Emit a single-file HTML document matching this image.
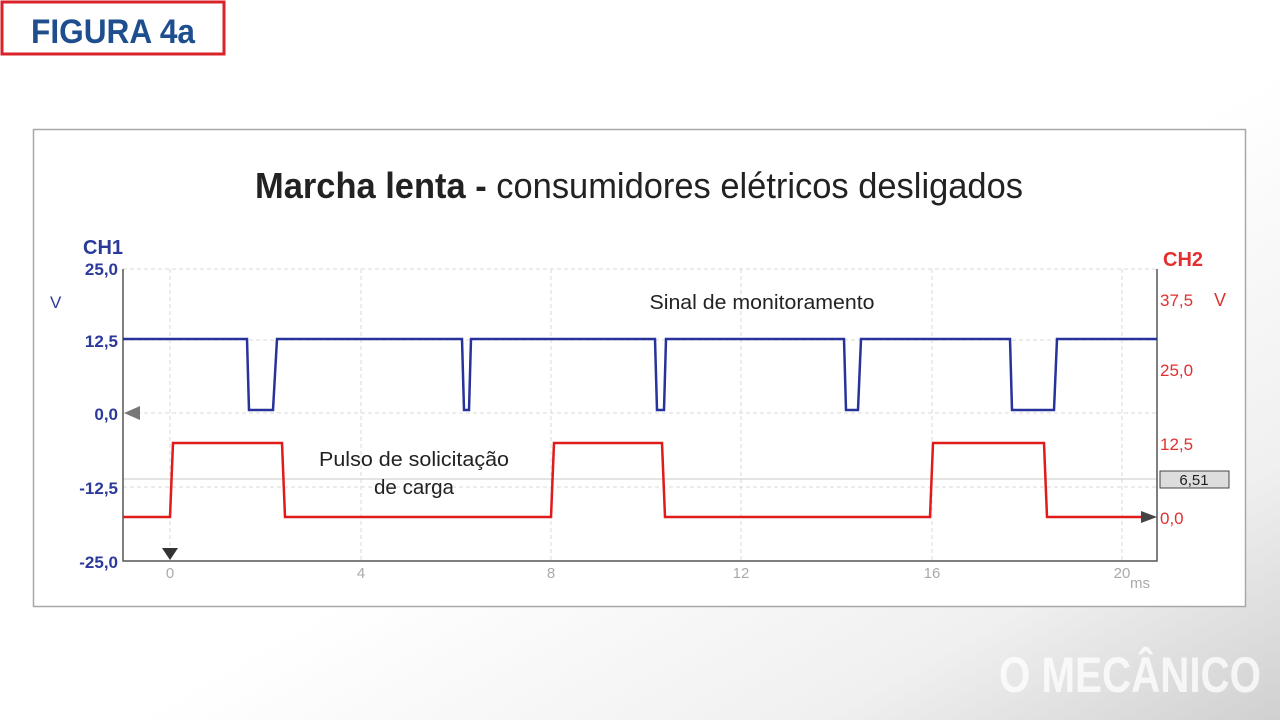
<!DOCTYPE html>
<html><head><meta charset="utf-8"><style>
html,body{margin:0;padding:0;width:1280px;height:720px;overflow:hidden;background:#fff;}
</style></head><body>
<svg width="1280" height="720" viewBox="0 0 1280 720" xmlns="http://www.w3.org/2000/svg" font-family="Liberation Sans, sans-serif">
<defs>
<linearGradient id="bg" x1="0.55" y1="0.55" x2="1" y2="1">
<stop offset="0" stop-color="#ffffff"/><stop offset="0.6" stop-color="#f0f0f0"/><stop offset="1" stop-color="#d0d0d0"/>
</linearGradient>
</defs>
<rect width="1280" height="720" fill="url(#bg)"/>
<rect x="2" y="2" width="222" height="52" fill="#fff" stroke="#d8232a" stroke-width="3"/>
<text x="113" y="43" text-anchor="middle" font-size="34" font-weight="bold" fill="#1f4e8f" textLength="164" lengthAdjust="spacingAndGlyphs">FIGURA 4a</text>
<text x="1130" y="692" text-anchor="middle" font-size="50" font-weight="bold" fill="#fff" fill-opacity="0.75" textLength="262" lengthAdjust="spacingAndGlyphs">O MECÂNICO</text>

<rect x="33.5" y="129.5" width="1212" height="477" fill="#fff" stroke="#a8a8a8" stroke-width="1.5"/>
<text x="639" y="198" text-anchor="middle" font-size="36" fill="#222" textLength="768" lengthAdjust="spacingAndGlyphs"><tspan font-weight="bold">Marcha lenta -</tspan> consumidores elétricos desligados</text>

<!-- grid -->
<g stroke="#d8d8d8" stroke-width="1" stroke-dasharray="4,3">
<line x1="170" y1="269" x2="170" y2="561"/><line x1="361" y1="269" x2="361" y2="561"/>
<line x1="551" y1="269" x2="551" y2="561"/><line x1="741" y1="269" x2="741" y2="561"/>
<line x1="932" y1="269" x2="932" y2="561"/><line x1="1122" y1="269" x2="1122" y2="561"/>
<line x1="123" y1="269" x2="1157" y2="269"/><line x1="123" y1="340" x2="1157" y2="340"/>
<line x1="123" y1="413" x2="1157" y2="413"/><line x1="123" y1="487" x2="1157" y2="487"/>
</g>
<line x1="123" y1="479" x2="1157" y2="479" stroke="#c8c8c8" stroke-width="1"/>
<path d="M123 269 V561 H1157 V269" fill="none" stroke="#555" stroke-width="1.5"/>

<!-- left axis -->
<g fill="#2b3a9a" font-size="17" font-weight="bold" text-anchor="end">
<text x="118" y="275">25,0</text><text x="118" y="347">12,5</text>
<text x="118" y="420">0,0</text><text x="118" y="494">-12,5</text><text x="118" y="568">-25,0</text>
</g>
<text x="83" y="254" fill="#2b3a9a" font-size="20" font-weight="bold">CH1</text>
<text x="50" y="308" fill="#2b3a9a" font-size="17">V</text>
<polygon points="124,413 140,406 140,420" fill="#777"/>
<!-- right axis -->
<g fill="#e03030" font-size="17">
<text x="1160" y="306">37,5</text><text x="1160" y="376">25,0</text>
<text x="1160" y="450">12,5</text><text x="1160" y="524">0,0</text>
</g>
<text x="1214" y="306" fill="#e03030" font-size="18">V</text>
<text x="1163" y="266" fill="#e03030" font-size="20" font-weight="bold">CH2</text>
<rect x="1160" y="471" width="69" height="17" fill="#ddd" stroke="#444" stroke-width="1"/>
<text x="1194" y="485" text-anchor="middle" font-size="15" fill="#222">6,51</text>
<polygon points="1157,517 1141,511 1141,523" fill="#444"/>
<polygon points="162,548 178,548 170,560" fill="#333"/>
<!-- x labels -->
<g fill="#aaa" font-size="15" text-anchor="middle">
<text x="170" y="578">0</text><text x="361" y="578">4</text><text x="551" y="578">8</text>
<text x="741" y="578">12</text><text x="932" y="578">16</text><text x="1122" y="578">20</text>
<text x="1140" y="588">ms</text>
</g>

<!-- blue trace -->
<polyline fill="none" stroke="#27339a" stroke-width="2.5" points="123,339 247,339 249,410 273,410 277,339 462,339 464,410 469,410 471,339 655,339 657,410 664,410 666,339 844,339 846,410 858,410 861,339 1010,339 1012,410 1054,410 1057,339 1157,339"/>
<!-- red trace -->
<polyline fill="none" stroke="#e01b1b" stroke-width="2.5" points="123,517 170,517 173,443 282,443 285,517 551,517 554,443 662,443 665,517 930,517 933,443 1044,443 1047,517 1141,517"/>

<text x="762" y="309" text-anchor="middle" font-size="20" fill="#222" textLength="225" lengthAdjust="spacingAndGlyphs">Sinal de monitoramento</text>
<text x="414" y="466" text-anchor="middle" font-size="20" fill="#222" textLength="190" lengthAdjust="spacingAndGlyphs">Pulso de solicitação</text>
<text x="414" y="494" text-anchor="middle" font-size="20" fill="#222" textLength="80" lengthAdjust="spacingAndGlyphs">de carga</text>
</svg>
</body></html>
